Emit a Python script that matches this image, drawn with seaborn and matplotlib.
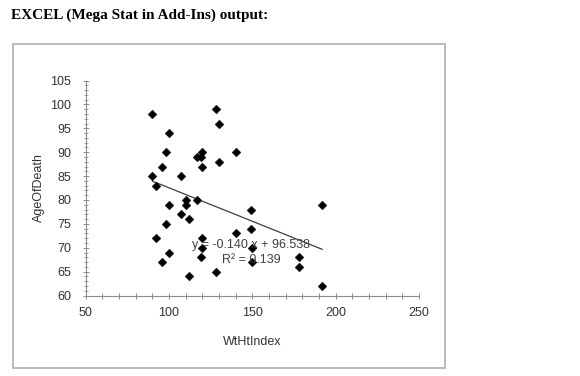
import numpy as np
import pandas as pd
import matplotlib
matplotlib.use("Agg")
import matplotlib.pyplot as plt
from matplotlib.patches import Rectangle
from matplotlib.ticker import MultipleLocator
import seaborn as sns

# ---- data ----
wtht_index = [90, 100, 98, 96, 90, 92, 107, 116.5, 119, 120, 120, 128, 130, 130, 140,
              116.5, 110, 110, 100, 107, 112, 98, 92, 120, 120, 140, 100, 96, 119, 128,
              112, 149, 149, 150, 150, 192, 178, 178, 192]
age_of_death = [98, 94, 90, 87, 85, 83, 85, 89, 89, 90, 87, 99, 96, 88, 90,
                80, 80, 79, 79, 77, 76, 75, 72, 72, 70, 73, 69, 67, 68, 65,
                64, 78, 74, 70, 67, 79, 68, 66, 62]
slope = -0.140
intercept = 96.538
r_squared = 0.139

title = "EXCEL (Mega Stat in Add-Ins) output:"
x_label = "WtHtIndex"
y_label = "AgeOfDeath"
x_ticks = [50, 100, 150, 200, 250]
y_ticks = [60, 65, 70, 75, 80, 85, 90, 95, 100, 105]

df = pd.DataFrame({x_label: wtht_index, y_label: age_of_death})

sns.set_style("white")
plt.rcParams["font.family"] = ["Liberation Sans", "DejaVu Sans"]

W, H = 580, 376
FS = 9
fig = plt.figure(figsize=(W / 100, H / 100), dpi=100)
ax = fig.add_axes([85.7 / W, 1 - 295.5 / H, (419 - 85.7) / W, (295.5 - 80.5) / H])

sns.scatterplot(data=df, x=x_label, y=y_label, marker="D", s=20, color="black",
                edgecolor="black", linewidth=0.3, ax=ax, zorder=3)

xs = np.array([min(wtht_index), max(wtht_index)])
ax.plot(xs, slope * xs + intercept, color="#404040", lw=0.9, zorder=2)

ax.set_xlim(50, 250)
ax.set_ylim(60, 105)
ax.set_xticks(x_ticks)
ax.set_yticks(y_ticks)
ax.xaxis.set_minor_locator(MultipleLocator(10))
ax.yaxis.set_minor_locator(MultipleLocator(1))

axis_col = "#8c8c8c"
for side in ["top", "right"]:
    ax.spines[side].set_visible(False)
for side in ["left", "bottom"]:
    ax.spines[side].set_color(axis_col)
    ax.spines[side].set_linewidth(0.8)

ax.tick_params(axis="x", which="both", direction="inout", length=4.5, width=0.7,
               color=axis_col, labelsize=FS, labelcolor="#333333", pad=6)
ax.tick_params(axis="y", which="major", direction="inout", length=5, width=0.7,
               color=axis_col, labelsize=FS, labelcolor="#333333", pad=8)
ax.tick_params(axis="y", which="minor", direction="inout", length=3.5, width=0.6,
               color=axis_col)
ax.tick_params(bottom=True, left=True, which="both")

ax.set_xlabel(x_label, fontsize=FS, color="#333333", labelpad=12)
ax.set_ylabel(y_label, fontsize=FS, color="#333333", labelpad=4)


def px_to_data(px, py):
    return ax.transData.inverted().transform((px, H - py))


ex, ey = px_to_data(251, 245)
rx, ry = px_to_data(251, 260)
ax.text(ex, ey, f"y = {slope:.3f} x + {intercept:.3f}", fontsize=FS, color="#404040",
        ha="center", va="center", zorder=4)
ax.text(rx, ry, f"R² = {r_squared:.3f}", fontsize=FS, color="#404040",
        ha="center", va="center", zorder=4)

# chart border
fig.patches.append(Rectangle((12.5 / W, 1 - 368 / H), (445 - 12.5) / W, (368 - 44) / H,
                             transform=fig.transFigure, fill=False,
                             edgecolor="#b4b4b4", lw=1.3))

fig.text(11 / W, 1 - 15 / H, title, fontsize=11, fontweight="bold",
         family=["Liberation Serif", "DejaVu Serif"], color="black", ha="left", va="center")

fig.savefig("out.png", dpi=100)
